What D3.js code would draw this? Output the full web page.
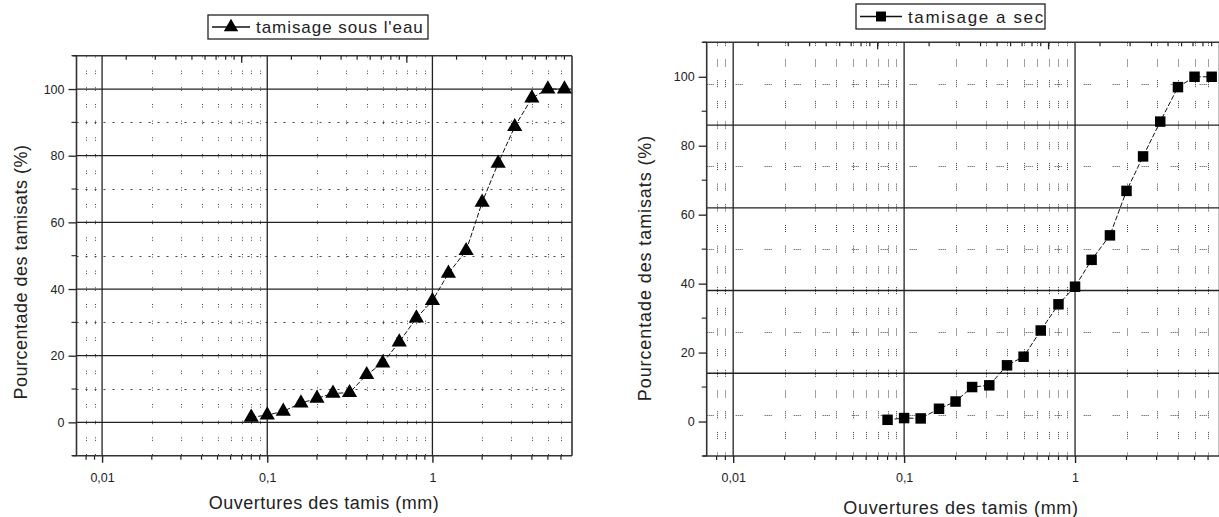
<!DOCTYPE html>
<html>
<head>
<meta charset="utf-8">
<script src="https://cdn.jsdelivr.net/npm/d3@7"></script>
<style>
  html, body { margin: 0; padding: 0; background: #fff; }
  svg { display: block; }
  text { font-family: "Liberation Sans", Arial, sans-serif; fill: #222; }
</style>
</head>
<body>
<svg id="chart" width="1219" height="517"></svg>
<script>
// ---------- DATA ----------
const sieveSizes = [0.08, 0.1, 0.125, 0.16, 0.2, 0.25, 0.315, 0.4, 0.5, 0.63, 0.8, 1, 1.25, 1.6, 2, 2.5, 3.15, 4, 5, 6.3];
const passingWet = [1.5, 2.2, 3.3, 5.8, 7.2, 8.7, 8.9, 14.3, 17.8, 24.1, 31.3, 36.5, 44.7, 51.5, 66, 77.7, 88.7, 97.3, 100, 100];
const passingDry = [0.5, 1.0, 0.9, 3.7, 5.8, 10.0, 10.5, 16.3, 18.8, 26.4, 34.0, 39.1, 46.9, 54.0, 66.9, 76.9, 87.0, 97.0, 100, 100];

const xDomain = [0.007, 7];
const yDomain = [-10, 110];
const xTickValues = [0.01, 0.1, 1];
const xTickLabels = ["0,01", "0,1", "1"];
const yTickValues = [0, 20, 40, 60, 80, 100];
const yTickLabels = ["0", "20", "40", "60", "80", "100"];
const yMinorTicks = [-10, 10, 30, 50, 70, 90, 110];

const legendWet = "tamisage sous l'eau";
const legendDry = "tamisage a sec";
const xTitle = "Ouvertures des tamis (mm)";
const yTitle = "Pourcentade des tamisats (%)";

// grid positions as they appear in each panel
const leftSolidGridY = [0, 20, 40, 60, 80, 100];
const leftDottedGridY = [10, 30, 50, 70, 90];
const rightSolidGridY = [14, 38, 62, 86];
const rightDottedGridY = [2, 26, 50, 74, 98];

// ---------- DRAW ----------
const svg = d3.select("#chart");

function minorLogValues(lo, hi) {
  const out = [];
  for (let e = -4; e <= 2; e++) {
    for (let m = 2; m <= 9; m++) {
      const v = m * Math.pow(10, e);
      if (v > lo * 1.0001 && v < hi * 0.9999) out.push(v);
    }
  }
  return out;
}
function majorLogValues(lo, hi) {
  const out = [];
  for (let e = -4; e <= 2; e++) {
    const v = Math.pow(10, e);
    if (v >= lo && v <= hi) out.push(v);
  }
  return out;
}

function drawPanel(cfg) {
  const g = svg.append("g");
  const x = d3.scaleLog().domain(xDomain).range([cfg.left, cfg.right]);
  const y = d3.scaleLinear().domain(yDomain).range([cfg.bottom, cfg.top]);
  const minors = minorLogValues(xDomain[0], xDomain[1]);

  const clipId = "clip" + cfg.id;
  svg.append("clipPath").attr("id", clipId).append("rect")
    .attr("x", cfg.left).attr("y", cfg.top)
    .attr("width", cfg.right - cfg.left).attr("height", cfg.bottom - cfg.top);
  const inner = g.append("g").attr("clip-path", `url(#${clipId})`);

  // dotted minor vertical lines
  const P = Math.abs(y(0) - y(cfg.vPeriod));
  const vPattern = cfg.vDash(P);
  const startOff = Math.abs(y(cfg.vPhase) - y(yDomain[1]));
  inner.selectAll("line.vminor").data(minors).join("line")
    .attr("x1", d => Math.round(x(d)) + 0.5).attr("x2", d => Math.round(x(d)) + 0.5)
    .attr("y1", cfg.top).attr("y2", cfg.bottom)
    .attr("stroke", "#444").attr("stroke-width", 1)
    .attr("stroke-dasharray", vPattern.arr)
    .attr("stroke-dashoffset", ((P - (startOff - vPattern.half)) % P + P) % P);

  // dotted horizontal lines
  inner.selectAll("line.hminor").data(cfg.dottedY).join("line")
    .attr("x1", cfg.left).attr("x2", cfg.right)
    .attr("y1", d => Math.round(y(d)) + 0.5).attr("y2", d => Math.round(y(d)) + 0.5)
    .attr("stroke", "#444").attr("stroke-width", 1)
    .attr("stroke-dasharray", cfg.hDash);

  // solid grid
  inner.selectAll("line.hmajor").data(cfg.solidY).join("line")
    .attr("x1", cfg.left).attr("x2", cfg.right)
    .attr("y1", d => y(d)).attr("y2", d => y(d))
    .attr("stroke", "#222").attr("stroke-width", 1.3);
  inner.selectAll("line.vmajor").data(xTickValues).join("line")
    .attr("x1", d => x(d)).attr("x2", d => x(d))
    .attr("y1", cfg.top).attr("y2", cfg.bottom)
    .attr("stroke", "#222").attr("stroke-width", 1.3);

  // frame
  g.append("line").attr("x1", cfg.left - 4).attr("x2", cfg.right).attr("y1", cfg.top).attr("y2", cfg.top)
    .attr("stroke", "#333").attr("stroke-width", 1.6);
  g.append("line").attr("x1", cfg.left - 4).attr("x2", cfg.right).attr("y1", cfg.bottom).attr("y2", cfg.bottom)
    .attr("stroke", "#333").attr("stroke-width", 1.6);
  g.append("line").attr("x1", cfg.left).attr("x2", cfg.left).attr("y1", cfg.top).attr("y2", cfg.bottom)
    .attr("stroke", "#333").attr("stroke-width", 1.6);
  g.append("line").attr("x1", cfg.right).attr("x2", cfg.right).attr("y1", cfg.top).attr("y2", cfg.bottom)
    .attr("stroke", "#333").attr("stroke-width", 1.6);

  // bottom axis (outward ticks)
  const bottomAxis = d3.axisBottom(x).tickValues(xTickValues)
    .tickFormat((d, i) => xTickLabels[i]).tickSize(7).tickPadding(10);
  const ba = g.append("g").attr("transform", `translate(0,${cfg.bottom})`).call(bottomAxis);
  ba.select(".domain").remove();
  ba.selectAll(".tick line").attr("stroke", "#222").attr("stroke-width", 1.4);
  ba.selectAll(".tick text").attr("font-size", 12.5).attr("fill", "#333")
    .attr("font-family", "Liberation Sans, Arial, sans-serif");
  g.append("g").selectAll("line").data(minors).join("line")
    .attr("x1", d => x(d)).attr("x2", d => x(d))
    .attr("y1", cfg.bottom).attr("y2", cfg.bottom + 4)
    .attr("stroke", "#222").attr("stroke-width", 1.2);

  // top axis ticks (inward, shifted as in the picture)
  const shift = x(xDomain[0]) - x(0.01);
  const xt = x.copy().range([cfg.left + shift, cfg.right + shift]);
  const topMinor = minorLogValues(0.001, 100).filter(d => xt(d) > cfg.left + 1 && xt(d) < cfg.right - 1);
  const topMajor = majorLogValues(0.001, 100).filter(d => xt(d) > cfg.left + 1 && xt(d) < cfg.right - 1);
  g.append("g").selectAll("line").data(topMinor).join("line")
    .attr("x1", d => xt(d)).attr("x2", d => xt(d))
    .attr("y1", cfg.top).attr("y2", cfg.top + 4)
    .attr("stroke", "#222").attr("stroke-width", 1.2);
  g.append("g").selectAll("line").data(topMajor).join("line")
    .attr("x1", d => xt(d)).attr("x2", d => xt(d))
    .attr("y1", cfg.top).attr("y2", cfg.top + 7)
    .attr("stroke", "#222").attr("stroke-width", 1.3);

  // left axis
  const leftAxis = d3.axisLeft(y).tickValues(yTickValues)
    .tickFormat((d, i) => yTickLabels[i]).tickSize(8).tickPadding(4);
  const la = g.append("g").attr("transform", `translate(${cfg.left},0)`).call(leftAxis);
  la.select(".domain").remove();
  la.selectAll(".tick line").attr("stroke", "#222").attr("stroke-width", 1.3);
  la.selectAll(".tick text").attr("font-size", 12.5).attr("fill", "#333")
    .attr("font-family", "Liberation Sans, Arial, sans-serif");
  g.append("g").selectAll("line").data(yMinorTicks).join("line")
    .attr("x1", cfg.left - 5).attr("x2", cfg.left)
    .attr("y1", d => y(d)).attr("y2", d => y(d))
    .attr("stroke", "#222").attr("stroke-width", 1.1);

  // titles
  g.append("text").attr("x", cfg.xTitleX).attr("y", cfg.xTitleY)
    .attr("text-anchor", "middle").attr("font-size", 18)
    .attr("letter-spacing", cfg.xTitleLs).text(xTitle);
  g.append("text")
    .attr("transform", `translate(${cfg.yTitleX},${cfg.yTitleY}) rotate(-90)`)
    .attr("text-anchor", "middle").attr("font-size", 18)
    .attr("letter-spacing", cfg.yTitleLs).text(yTitle);

  // series
  const pts = sieveSizes.map((s, i) => ({ x: s, y: cfg.values[i] }));
  const line = d3.line().x(d => x(d.x)).y(d => y(d.y));
  g.append("path").datum(pts).attr("d", line)
    .attr("fill", "none").attr("stroke", "#111").attr("stroke-width", 1)
    .attr("stroke-dasharray", "5,2");
  const sym = d3.symbol().type(cfg.symbol).size(cfg.symbolSize);
  g.append("g").selectAll("path").data(pts).join("path")
    .attr("d", sym)
    .attr("transform", d => `translate(${x(d.x)},${y(d.y)})`)
    .attr("fill", "#000");

  // legend
  const L = cfg.legend;
  const lg = g.append("g");
  lg.append("rect").attr("x", L.x).attr("y", L.y)
    .attr("width", L.w).attr("height", L.h)
    .attr("fill", "#fff").attr("stroke", "#222").attr("stroke-width", 1.3);
  const cy = L.y + L.h / 2;
  lg.append("line").attr("x1", L.x + 4).attr("x2", L.x + L.lineW)
    .attr("y1", cy).attr("y2", cy).attr("stroke", "#111").attr("stroke-width", 1.3);
  lg.append("path").attr("d", d3.symbol().type(cfg.symbol).size(cfg.symbolSize * 0.9))
    .attr("transform", `translate(${L.x + 4 + (L.lineW - 4) / 2},${cy})`).attr("fill", "#000");
  lg.append("text").attr("x", L.x + L.lineW + 6).attr("y", cy + 6)
    .attr("font-size", 17).attr("letter-spacing", L.ls).text(L.text);
}

drawPanel({
  id: "L", left: 76.5, right: 572, top: 55.7, bottom: 455.7,
  values: passingWet, symbol: d3.symbolTriangle, symbolSize: 100,
  solidY: leftSolidGridY, dottedY: leftDottedGridY,
  vPeriod: 5, vPhase: 105,
  vDash: P => ({ arr: `1,1.5,1,${(P - 3.5).toFixed(2)}`, half: 1.75 }),
  hDash: "2,7",
  xTitleX: 324, xTitleY: 509, xTitleLs: 0.5,
  yTitleX: 27, yTitleY: 272, yTitleLs: 0.5,
  legend: { x: 208, y: 15, w: 220, h: 24, lineW: 42, text: legendWet, ls: 0.95 }
});

drawPanel({
  id: "R", left: 706.7, right: 1219.5, top: 42.3, bottom: 456,
  values: passingDry, symbol: d3.symbolSquare, symbolSize: 110,
  solidY: rightSolidGridY, dottedY: rightDottedGridY,
  vPeriod: 6, vPhase: 104,
  vDash: P => ({ arr: `1,1,1,1,1,1,1,${(P - 7).toFixed(2)}`, half: 3.5 }),
  hDash: "1,1,1,1,1,1,1,22",
  xTitleX: 961, xTitleY: 514, xTitleLs: 0.7,
  yTitleX: 651, yTitleY: 268, yTitleLs: 0.9,
  legend: { x: 856, y: 4, w: 189, h: 25, lineW: 46, text: legendDry, ls: 1.6 }
});
</script>
</body>
</html>
